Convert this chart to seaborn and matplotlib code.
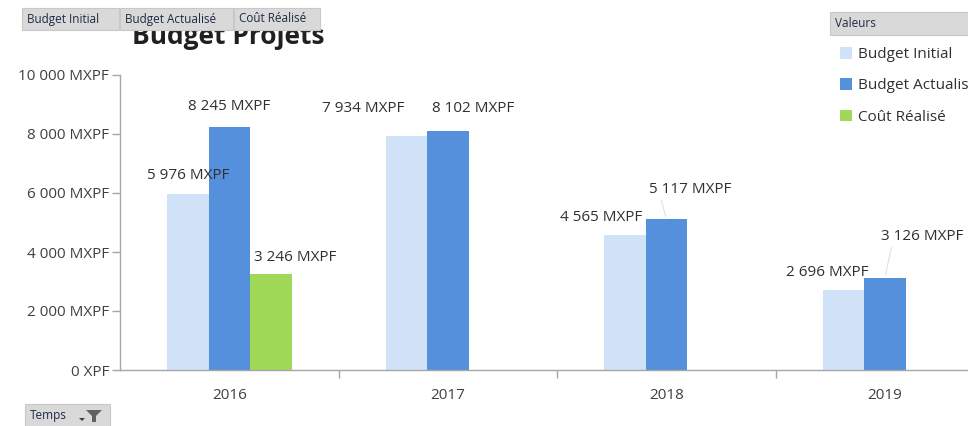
import numpy as np
import pandas as pd
import seaborn as sns
import matplotlib
matplotlib.use("Agg")
import matplotlib.pyplot as plt
from matplotlib.patches import Rectangle, Patch, Polygon

# ---- data ----
years = ["2016", "2017", "2018", "2019"]
series = ["Budget Initial", "Budget Actualisé", "Coût Réalisé"]
budget_initial = [5976, 7934, 4565, 2696]
budget_actualise = [8245, 8102, 5117, 3126]
cout_realise = [3246, 0, 0, 0]
y_ticks = [0, 2000, 4000, 6000, 8000, 10000]
y_tick_labels = ["0 XPF", "2 000 MXPF", "4 000 MXPF", "6 000 MXPF", "8 000 MXPF", "10 000 MXPF"]
title = "Budget Projets"

colors = ["#CFE2F8", "#5590DC", "#9FD957"]

df = pd.DataFrame({
    "Année": years * 3,
    "Série": [series[0]] * 4 + [series[1]] * 4 + [series[2]] * 4,
    "Valeur": budget_initial + budget_actualise + cout_realise,
})

sns.set_theme(style="white")
plt.rcParams["font.family"] = ["Open Sans", "DejaVu Sans"]

W, H = 968, 426
fig = plt.figure(figsize=(W / 100, H / 100), dpi=100)
ax = fig.add_axes([120 / W, 1 - 370 / H, 1 - 120 / W, (370 - 75) / H])

sns.barplot(data=df, x="Année", y="Valeur", hue="Série", hue_order=series,
            order=years, palette=colors, width=0.57, saturation=1,
            errorbar=None, legend=False, linewidth=0, ax=ax)

ax.set_xlim(-0.5, 3.38)
ax.set_ylim(0, 10000)
ax.set_yticks(y_ticks)
ax.set_yticklabels(y_tick_labels)
ax.set_xlabel("")
ax.set_ylabel("")
for s in ["top", "right"]:
    ax.spines[s].set_visible(False)
for s in ["left", "bottom"]:
    ax.spines[s].set_color("#A6A6A6")
    ax.spines[s].set_linewidth(1.0)
ax.tick_params(axis="y", length=6, width=1, color="#A6A6A6", labelsize=11,
               labelcolor="#404040", pad=2, left=True)
ax.tick_params(axis="x", which="major", length=0, labelsize=11,
               labelcolor="#404040", pad=13)
ax.set_xticks([0.5, 1.5, 2.5], minor=True)
ax.tick_params(axis="x", which="minor", length=6, width=1, color="#A6A6A6", bottom=True)

# data labels (pixel offsets of label centre from bar top centre)
offsets = {
    (0, 0): (0, 18), (0, 1): (0, 20), (0, 2): (24, 17),
    (1, 0): (-43, 27), (1, 1): (25, 22),
    (2, 0): (-24, 18), (2, 1): (24, 30),
    (3, 0): (-16, 18), (3, 1): (37, 41),
}
leaders = {(2, 1), (3, 1)}
for si, cont in enumerate(ax.containers):
    for bar in cont:
        h = bar.get_height()
        if not h or np.isnan(h):
            continue
        cx = bar.get_x() + bar.get_width() / 2
        yi = int(round(cx))
        dx, dy = offsets.get((yi, si), (0, 18))
        txt = f"{int(h):,}".replace(",", " ") + " MXPF"
        ax.annotate(txt, xy=(cx, h), xytext=(dx, dy), textcoords="offset pixels",
                    ha="center", va="center", fontsize=11, color="#303030",
                    annotation_clip=False)
        if (yi, si) in leaders:
            ax.annotate("", xy=(cx, h), xytext=(dx - 30, dy - 8),
                        textcoords="offset pixels",
                        arrowprops=dict(arrowstyle="-", color="#E0E0E0", lw=0.8),
                        annotation_clip=False)

# title (partly hidden by field buttons, as in the reference)
fig.text(228 / W, 1 - 44 / H, title, ha="center", va="baseline",
         fontsize=19, fontweight="bold", color="#202020")

# pivot field buttons
def button(x0, x1, y0, y1, label, fs=8.5):
    r = Rectangle((x0 / W, 1 - y1 / H), (x1 - x0) / W, (y1 - y0) / H,
                  transform=fig.transFigure, facecolor="#D9D9D9",
                  edgecolor="#C8C8C8", lw=0.8, zorder=10)
    fig.patches.append(r)
    fig.text((x0 + 5) / W, 1 - (y0 + y1) / 2 / H, label, ha="left", va="center",
             fontsize=fs, color="#1F2A44", zorder=11)

button(22, 119, 8, 30, "Budget Initial")
button(120, 233, 8, 30, "Budget Actualisé")
button(234, 320, 8, 30, "Coût Réalisé")
button(25, 110, 404, 428, "Temps")
# filter icon
fig.patches.append(Polygon([[86 / W, 1 - 410 / H], [102 / W, 1 - 410 / H],
                            [96 / W, 1 - 416 / H], [96 / W, 1 - 422 / H],
                            [92 / W, 1 - 422 / H], [92 / W, 1 - 416 / H]],
                           closed=True, transform=fig.transFigure,
                           facecolor="#606060", edgecolor="none", zorder=12))
fig.patches.append(Polygon([[79 / W, 1 - 418 / H], [85 / W, 1 - 418 / H], [82 / W, 1 - 421 / H]],
                           closed=True, transform=fig.transFigure,
                           facecolor="#404040", edgecolor="none", zorder=12))

# legend with header
button(830, 975, 12, 35, "Valeurs")
handles = [Patch(facecolor=c, edgecolor="none") for c in colors]
leg = fig.legend(handles, series, loc="upper left",
                 bbox_to_anchor=(834 / W, 1 - 41 / H), frameon=False,
                 fontsize=11, handlelength=0.8, handleheight=0.8,
                 handletextpad=0.35, labelspacing=1.05, borderaxespad=0)
for t in leg.get_texts():
    t.set_color("#303030")

fig.savefig("out.png", dpi=100)
